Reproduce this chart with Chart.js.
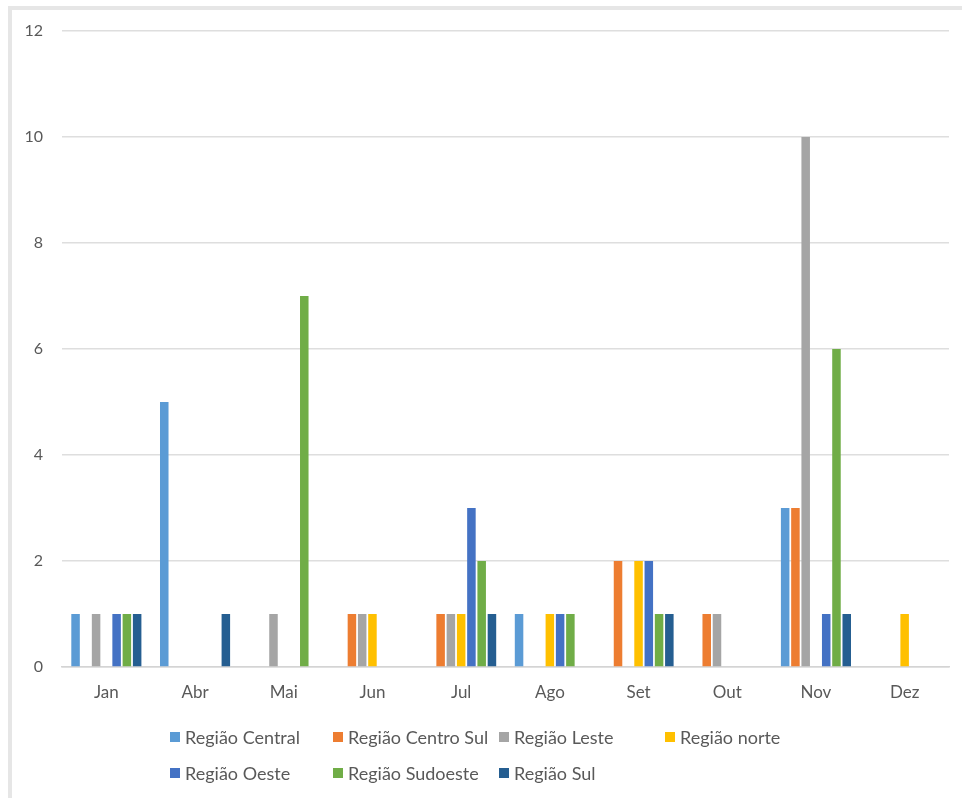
<!DOCTYPE html>
<html lang="pt">
<head>
<meta charset="utf-8">
<title>Ocorrências por região e mês</title>
<script src="https://cdn.jsdelivr.net/npm/chart.js@4.4.1/dist/chart.umd.min.js"></script>
<style>
  html, body { margin: 0; padding: 0; background: #fff; }
  #wrap { position: relative; width: 962px; height: 798px; overflow: hidden; font-family: Lato, "Open Sans", sans-serif; }
  #frame { position: absolute; left: 8px; top: 6px; right: -10px; bottom: -10px; border-left: 4px solid #e6e6e6; border-top: 4px solid #e6e6e6; }
  #chart { position: absolute; left: 0; top: 0; }
  #legend { position: absolute; left: 0; top: 0; width: 962px; height: 798px; pointer-events: none; }
  .item { position: absolute; display: flex; align-items: center; font-size: 18px; color: #595959; white-space: nowrap; height: 22px; }
  .box { width: 10px; height: 10px; margin-right: 5px; }
</style>
</head>
<body>
<div id="wrap">
  <div id="frame"></div>
  <canvas id="chart" width="962" height="712"></canvas>
  <div id="legend"></div>
</div>
<script>
const months = ['Jan', 'Abr', 'Mai', 'Jun', 'Jul', 'Ago', 'Set', 'Out', 'Nov', 'Dez'];
const yTicks = [0, 2, 4, 6, 8, 10, 12];

const regions = ['Região Central', 'Região Centro Sul', 'Região Leste', 'Região norte', 'Região Oeste', 'Região Sudoeste', 'Região Sul'];
const colors = ['#5b9bd5', '#ed7d31', '#a5a5a5', '#ffc000', '#4472c4', '#70ad47', '#255e91'];

//                     Jan Abr Mai Jun Jul Ago Set Out Nov Dez
const central      = [1,  5,  0,  0,  0,  1,  0,  0,  3,  0];
const centroSul    = [0,  0,  0,  1,  1,  0,  2,  1,  3,  0];
const leste        = [1,  0,  1,  1,  1,  0,  0,  1,  10, 0];
const norte        = [0,  0,  0,  1,  1,  1,  2,  0,  0,  1];
const oeste        = [1,  0,  0,  0,  3,  1,  2,  0,  1,  0];
const sudoeste     = [1,  0,  7,  0,  2,  1,  1,  0,  6,  0];
const sul          = [1,  1,  0,  0,  1,  0,  1,  0,  1,  0];

const series = [central, centroSul, leste, norte, oeste, sudoeste, sul];

// legend grid: two rows, four fixed-width columns
const legendCols = [170, 333, 499, 665];
const legendRows = [737, 773];

const datasets = series.map((vals, i) => ({
  label: regions[i],
  data: vals,
  backgroundColor: colors[i],
  borderWidth: 0,
  categoryPercentage: 0.81,
  barPercentage: 0.83
}));

const chart = new Chart(document.getElementById('chart'), {
  type: 'bar',
  data: { labels: months, datasets },
  options: {
    responsive: false,
    animation: false,
    events: [],
    layout: { padding: { top: 31, right: 13, left: 0, bottom: 0 } },
    plugins: { legend: { display: false }, tooltip: { enabled: false } },
    scales: {
      x: {
        grid: { display: false, drawTicks: false },
        border: { display: true, color: '#d4d4d4', width: 1.5 },
        ticks: { color: '#595959', font: { family: 'Lato', size: 17 }, padding: 15 },
        afterFit: s => { s.height = 45; }
      },
      y: {
        min: 0,
        max: 12,
        afterBuildTicks: s => { s.ticks = yTicks.map(v => ({ value: v })); },
        grid: { color: '#dedede', lineWidth: 1.5, drawTicks: false },
        border: { display: false },
        ticks: { color: '#595959', font: { family: 'Lato', size: 16 }, padding: 19 },
        afterFit: s => { s.width = 62; }
      }
    }
  }
});

// HTML legend built from the chart's datasets
const legend = document.getElementById('legend');
chart.data.datasets.forEach((ds, i) => {
  const row = Math.floor(i / 4), col = i % 4;
  const el = document.createElement('div');
  el.className = 'item';
  el.style.left = legendCols[col] + 'px';
  el.style.top = (legendRows[row] - 11) + 'px';
  const box = document.createElement('span');
  box.className = 'box';
  box.style.background = ds.backgroundColor;
  const txt = document.createElement('span');
  txt.textContent = ds.label;
  el.appendChild(box);
  el.appendChild(txt);
  legend.appendChild(el);
});
</script>
</body>
</html>
